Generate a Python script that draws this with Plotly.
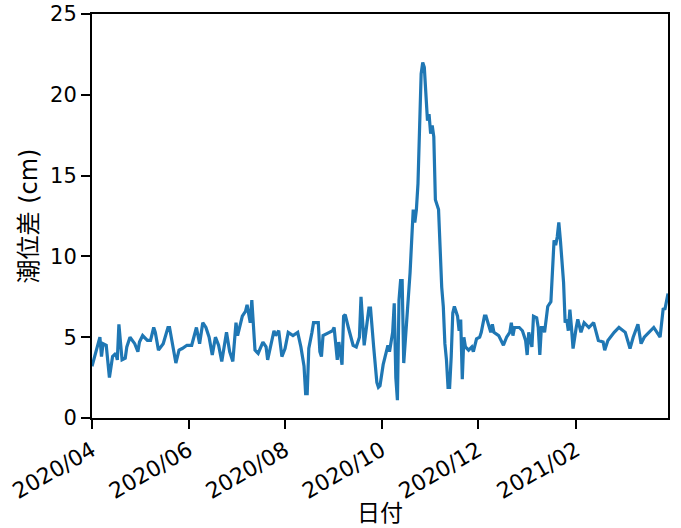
import datetime as dt
import plotly.graph_objects as go

# day offsets from 2020-04-01 and tide-level difference values (cm)
day_offsets = [0, 3, 5, 6, 7, 9, 11, 13, 15, 16, 17, 19, 21, 22, 24, 27, 29, 30, 32, 35, 37, 39, 40, 42, 45, 48, 49,
               53, 55, 57, 60, 63, 66, 68, 70, 72, 74, 76, 78, 80, 82, 85, 87, 89, 91, 92, 95, 97, 98, 100, 101,
               103, 105, 108, 110, 111, 115, 116, 118, 120, 122, 124, 127, 130, 132, 134, 135, 136, 137, 139, 140,
               143, 144, 145, 146, 150, 152, 153, 154, 155, 156, 158, 159, 160, 162, 165, 167, 169, 170, 172, 175,
               176, 178, 179, 180, 181, 182, 184, 186, 187, 188, 189, 190, 191, 192, 193, 194, 195, 196, 197, 200,
               201, 203, 204, 205, 206, 208, 209, 210, 212, 213, 214, 215, 216, 217, 219, 221, 222, 223, 224, 225,
               226, 227, 228, 229, 231, 232, 233, 234, 235, 236, 238, 240, 241, 243, 245, 246, 248, 249, 251, 252,
               253, 254, 257, 260, 262, 264, 265, 266, 267, 270, 272, 274, 275, 276, 278, 279, 281, 282, 283, 284,
               285, 286, 288, 290, 292, 293, 294, 295, 296, 298, 299, 300, 301, 302, 303, 304, 306, 307, 309, 311,
               314, 317, 320, 323, 324, 326, 330, 333, 337, 339, 340, 342, 345, 347, 349, 355, 358, 359, 361, 362,
               364]
tide_diff = [3.2, 4.4, 5.0, 3.8, 4.6, 4.5, 2.5, 3.8, 4.0, 3.6, 5.8, 3.6, 3.7, 4.4, 5.0, 4.6, 4.1, 4.7, 5.1, 4.8, 4.8,
             5.6, 5.3, 4.2, 4.6, 5.6, 5.6, 3.4, 4.2, 4.3, 4.5, 4.5, 5.6, 4.6, 5.9, 5.6, 5.0, 3.9, 5.0, 4.5, 3.5,
             5.3, 4.1, 3.5, 5.9, 5.1, 6.3, 6.6, 7.0, 5.9, 7.3, 4.2, 4.0, 4.7, 4.4, 3.6, 5.4, 5.1, 5.4, 3.8, 4.3,
             5.3, 5.1, 5.3, 4.4, 3.2, 1.5, 1.5, 4.3, 5.3, 5.9, 5.9, 4.1, 3.8, 5.1, 5.3, 5.4, 5.6, 4.4, 3.6, 4.7,
             3.3, 6.3, 6.4, 5.6, 4.5, 4.4, 5.0, 7.5, 4.5, 6.8, 6.8, 4.4, 3.4, 2.2, 1.9, 2.0, 3.3, 4.0, 4.5, 4.1,
             4.6, 5.3, 7.1, 2.5, 1.1, 7.3, 8.5, 8.5, 3.4, 7.3, 9.0, 12.9, 12.1, 12.9, 14.5, 21.3, 22.0, 21.7,
             18.4, 18.8, 17.6, 18.1, 17.4, 13.5, 12.9, 8.1, 6.9, 4.6, 3.6, 1.9, 1.9, 3.8, 6.5, 6.9, 6.3, 5.4, 6.1,
             2.4, 5.0, 4.4, 4.2, 4.4, 4.1, 4.9, 5.0, 5.3, 6.3, 6.3, 5.6, 5.3, 5.8, 5.3, 5.1, 4.5, 5.0, 5.3, 5.9,
             5.1, 5.6, 5.6, 5.4, 4.8, 3.9, 5.3, 4.4, 6.3, 6.2, 5.6, 3.9, 5.6, 5.6, 5.3, 6.9, 7.2, 11.0, 10.7,
             11.2, 12.1, 11.0, 8.4, 5.9, 6.1, 5.4, 6.7, 5.6, 4.3, 5.6, 6.1, 5.3, 5.9, 5.6, 5.9, 4.8, 4.7, 4.2,
             4.8, 5.3, 5.6, 5.3, 4.6, 4.3, 5.0, 5.8, 4.6, 5.0, 5.6, 5.1, 5.0, 6.8, 6.7, 7.7]

x_tick_dates = ["2020-04-01", "2020-06-01", "2020-08-01", "2020-10-01", "2020-12-01", "2021-02-01"]
x_tick_labels = ["2020/04", "2020/06", "2020/08", "2020/10", "2020/12", "2021/02"]
y_ticks = [0, 5, 10, 15, 20, 25]

start = dt.date(2020, 4, 1)
dates = [start + dt.timedelta(days=d) for d in day_offsets]

FONT = "DejaVu Sans, Noto Sans CJK JP"
CJK = "Noto Sans CJK JP"

fig = go.Figure()
fig.add_trace(go.Scatter(x=dates, y=tide_diff, mode="lines",
                         line=dict(color="#1f77b4", width=3.2), showlegend=False))

axis_common = dict(showline=True, linecolor="black", linewidth=2, mirror=True,
                   ticks="outside", ticklen=9, tickwidth=1.6, tickcolor="black",
                   showgrid=False, zeroline=False, automargin=False)

fig.update_xaxes(range=["2020-04-01", "2021-03-31"], tickvals=x_tick_dates, ticktext=x_tick_labels,
                 tickangle=-30, tickfont=dict(family=FONT, size=22, color="black"),
                 title=dict(text="日付", font=dict(family=CJK, size=23, color="black"), standoff=0),
                 **axis_common)
fig.update_yaxes(range=[0, 25.0001], tickvals=y_ticks,
                 tickfont=dict(family=FONT, size=21, color="black"),
                 title=dict(text="潮位差 (cm)", font=dict(family=FONT, size=24, color="black"), standoff=6),
                 **axis_common)

fig.update_layout(width=681, height=528, margin=dict(l=92, r=13, t=14, b=110),
                  plot_bgcolor="white", paper_bgcolor="white",
                  font=dict(family=FONT, color="black"))

fig.write_html("out.html", config={"displayModeBar": False},
               post_script="document.body.style.margin='0';document.body.style.overflow='hidden';")
